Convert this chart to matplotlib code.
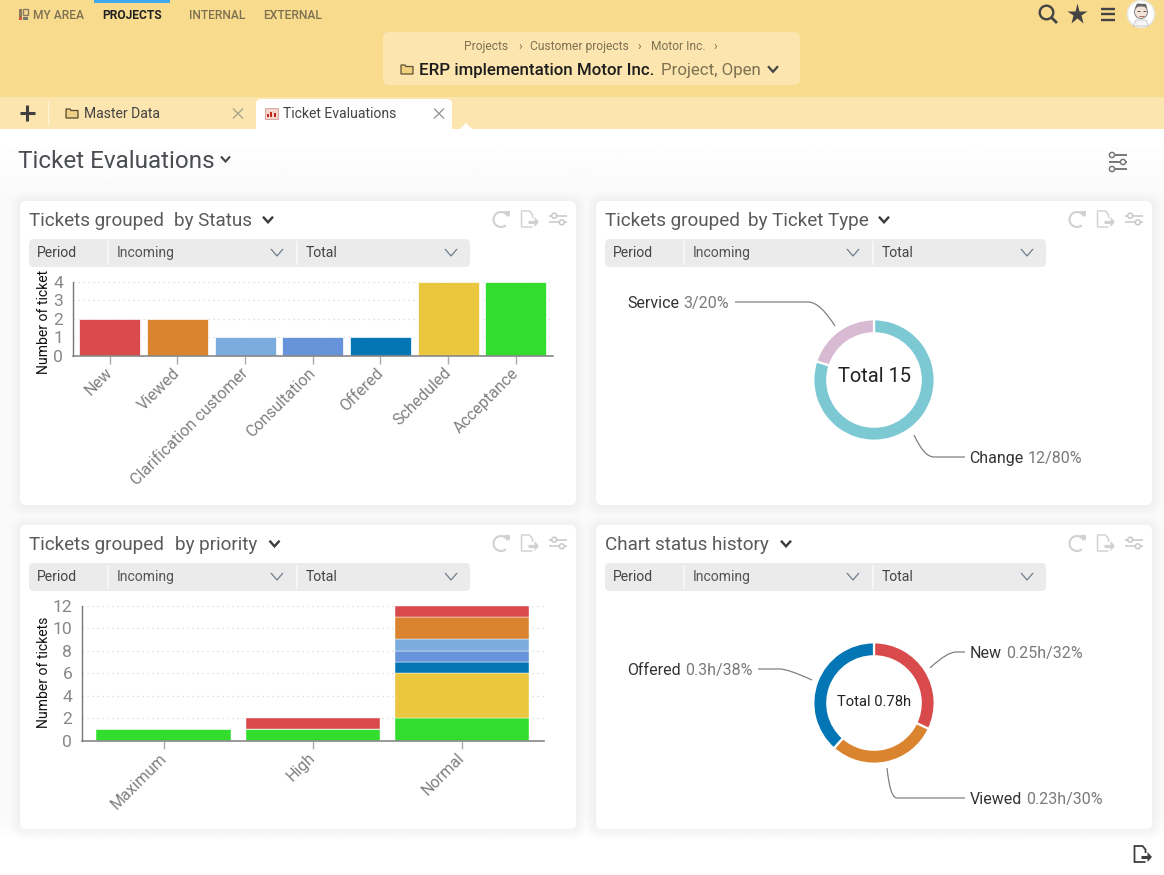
import numpy as np
import matplotlib
matplotlib.use("Agg")
import matplotlib.pyplot as plt
from matplotlib.patches import FancyBboxPatch, Rectangle, Circle, Arc, PathPatch, Polygon
from matplotlib.path import Path
from matplotlib.transforms import Bbox, ScaledTranslation

plt.rcParams['font.family'] = ['Roboto', 'DejaVu Sans']

# ---------- data ----------
status_labels = ["New", "Viewed", "Clarification customer", "Consultation", "Offered", "Scheduled", "Acceptance"]
status_counts = [2, 2, 1, 1, 1, 4, 4]
status_colors = ["#D94A4C", "#DB842F", "#7CACDE", "#6693D9", "#0476B5", "#EBC63F", "#33DD2E"]

priority_labels = ["Maximum", "High", "Normal"]
prio_acceptance = [1, 1, 2]
prio_scheduled = [0, 0, 4]
prio_offered = [0, 0, 1]
prio_consultation = [0, 0, 1]
prio_clarification = [0, 0, 1]
prio_viewed = [0, 0, 2]
prio_new = [0, 1, 1]

type_values = [12, 3]
type_colors = ["#7CC8D3", "#D9BAD3"]
history_values = [0.25, 0.23, 0.30]
history_colors = ["#D94A4C", "#DB842F", "#0476B5"]

W, H = 1164, 875
fig = plt.figure(figsize=(W / 100, H / 100), dpi=100, facecolor="white")


def px_axes(x0, y0, x1, y1, **kw):
    return fig.add_axes([x0 / W, 1 - y1 / H, (x1 - x0) / W, (y1 - y0) / H], **kw)


def pt(px):
    return px * 0.72


bg = px_axes(0, 0, W, H, zorder=0)
bg.set_xlim(0, W)
bg.set_ylim(H, 0)
bg.axis("off")
top = px_axes(0, 0, W, H, zorder=10)
top.set_xlim(0, W)
top.set_ylim(H, 0)
top.axis("off")
top.patch.set_alpha(0)


def T(x, y, s, px, color="#444444", ax=bg, ha="left", weight="normal", **kw):
    return ax.text(x, y, s, fontsize=pt(px), color=color, ha=ha, va="baseline", weight=weight, **kw)


def L(xs, ys, color="#444444", lw=1.0, ax=bg, **kw):
    ax.plot(xs, ys, color=color, lw=lw, solid_capstyle=kw.pop("cap", "butt"), solid_joinstyle="miter", **kw)


def rbox(x0, y0, x1, y1, r, fc, ec="none", lw=0, z=1, ax=bg, alpha=None):
    ax.add_patch(FancyBboxPatch((x0 + r, y0 + r), x1 - x0 - 2 * r, y1 - y0 - 2 * r,
                                boxstyle=f"round,pad={r},rounding_size={r}", fc=fc, ec=ec, lw=lw, zorder=z, alpha=alpha))


def chevron(x, y, w, h, color="#444444", lw=1.5):
    L([x - w, x, x + w], [y - h, y + h, y - h], color=color, lw=lw, zorder=6)


def sliders(x, y, color="#c8c8c8", s=1.0, lw=1.1):
    for dy, dx in ((-7 * s, -4 * s), (0, 4 * s)):
        L([x - 9 * s, x + 9 * s], [y + dy + 3.5 * s] * 2, color=color, lw=lw, zorder=6)
        bg.add_patch(Circle((x + dx, y + dy + 3.5 * s), 2.6 * s, fc="white", ec=color, lw=lw, zorder=7))


def sliders3(x, y, color="#777777"):
    for dy, dx in ((-7, -6), (0, 5), (7, -6)):
        L([x - 9, x + 9], [y + dy] * 2, color=color, lw=1.4, zorder=6)
        bg.add_patch(Circle((x + dx, y + dy), 2.6, fc="white", ec=color, lw=1.1, zorder=7))


def refresh(x, y, color="#d0d0d0"):
    bg.add_patch(Arc((x, y + 0.5), 15, 15, theta1=-310, theta2=-25, ec=color, lw=1.5, zorder=6))
    bg.add_patch(Polygon([[x + 2.5, y - 8.5], [x + 8.5, y - 8.5], [x + 8.5, y - 2.5]], fc=color, ec="none", zorder=6))


def export(x, y, color="#d0d0d0", lw=1.0):
    L([x + 3.5, x - 7.5, x - 7.5, x + 0.5, x + 3.5, x + 3.5],
      [y + 8, y + 8, y - 8, y - 8, y - 4.5, y - 1], color=color, lw=lw, zorder=6)
    L([x - 1, x + 6], [y + 3, y + 3], color=color, lw=2.2, zorder=6)
    bg.add_patch(Polygon([[x + 5.5, y - 2], [x + 10, y + 3], [x + 5.5, y + 8]], fc=color, ec="none", zorder=6))


def folder(x, y, fc="#EFC97A", ec="#6b5a35"):
    bg.add_patch(Polygon([[x, y - 4], [x + 4, y - 4], [x + 5, y - 2.5], [x + 12, y - 2.5], [x + 12, y + 5], [x, y + 5]],
                         fc=fc, ec=ec, lw=0.9, zorder=6))


# ---------- page chrome ----------
bg.add_patch(Rectangle((0, 0), W, 97, fc="#F9DB8E", ec="none", zorder=1))
bg.add_patch(Rectangle((0, 97), W, 32, fc="#FCE5AF", ec="none", zorder=1))
bg.add_patch(Rectangle((94, 0), 76, 3, fc="#42A9EE", ec="none", zorder=2))
grad = np.linspace(1.0, 0.98, 64).reshape(-1, 1)
bg.imshow(grad, extent=(0, W, 195, 135), cmap="gray", vmin=0, vmax=1, aspect="auto", zorder=0.5)
bg.add_patch(Rectangle((0, 194.5), W, 621, fc=(0.98, 0.98, 0.98), ec="none", zorder=0.5))
grad2 = np.linspace(0.98, 1.0, 64).reshape(-1, 1)
bg.imshow(grad2, extent=(0, W, 840, 815), cmap="gray", vmin=0, vmax=1, aspect="auto", zorder=0.5)
bg.set_xlim(0, W)
bg.set_ylim(H, 0)

# top navigation
bg.add_patch(Rectangle((18.5, 8.5), 3, 8, fc="#8a7a60", ec="none", zorder=5))
bg.add_patch(Rectangle((18.5, 17), 3, 3, fc="#D9583B", ec="none", zorder=5))
bg.add_patch(Rectangle((23, 8.5), 5, 6, fc="none", ec="#8a7a60", lw=1, zorder=5))
bg.add_patch(Rectangle((23, 16.5), 5, 3.5, fc="#777777", ec="none", zorder=5))
T(33, 19, "MY AREA", 12, "#7d7152", weight="medium", zorder=6)
T(102, 19, "PROJECTS", 12, "#222222", weight="bold", zorder=6)
T(189, 19, "INTERNAL", 12, "#7d7152", weight="medium", zorder=6)
T(263, 19, "EXTERNAL", 12, "#7d7152", weight="medium", zorder=6)

# right icons
bg.add_patch(Circle((1046.5, 12.5), 6.8, fc="none", ec="#444444", lw=1.7, zorder=6))
L([1051.5, 1057], [17.5, 23], color="#444444", lw=2.0, zorder=6)
bg.plot([1077], [13.5], marker="*", ms=15.5, mfc="#444444", mec="none", zorder=6)
for y in (8.5, 14, 19.5):
    L([1100.5, 1115], [y, y], color="#444444", lw=1.7, zorder=6)
bg.add_patch(Circle((1141, 14), 13.5, fc="white", ec="#e8e8e8", lw=1, zorder=6))
bg.add_patch(Circle((1141, 12), 6.5, fc="#F4E3D8", ec="#777777", lw=0.6, zorder=7))
bg.add_patch(Polygon([[1134.5, 9], [1137, 3.5], [1146, 4], [1147.5, 9], [1145, 6.5], [1138, 6.5]], fc="#666666", ec="none", zorder=8))
L([1136.5, 1139.5], [11, 11], color="#555555", lw=0.7, zorder=8)
L([1142.5, 1145.5], [11, 11], color="#555555", lw=0.7, zorder=8)
L([1138.5, 1143.5], [15.5, 15.5], color="#b06a60", lw=0.7, zorder=8)
bg.add_patch(Polygon([[1133, 26], [1136, 20], [1146, 20], [1149, 26]], fc="#F5F5F5", ec="#bbbbbb", lw=0.5, zorder=7))

# breadcrumb
rbox(383, 32, 800, 85, 6, "#FCE5AF", z=3)
T(464, 50, "Projects", 12, "#7d7152", zorder=6)
T(518, 50, "›", 12, "#7d7152", zorder=6)
T(530, 50, "Customer projects", 12, "#7d7152", zorder=6)
T(637, 50, "›", 12, "#7d7152", zorder=6)
T(651, 50, "Motor Inc.", 12, "#7d7152", zorder=6)
T(713, 50, "›", 12, "#7d7152", zorder=6)
folder(401, 69, fc="#F2D07E", ec="#5b5034")
T(419, 75, "ERP implementation Motor Inc.", 16.85, "#1d1d1d", weight="medium", zorder=6)
T(661, 75, "Project, Open", 16.85, "#7d7152", zorder=6)
chevron(773, 69, 5, 2.8, "#444444", 1.6)

# tabs
L([27, 27], [105, 121], color="#3f3f3f", lw=2.2, zorder=6)
L([20, 35], [113, 113], color="#3f3f3f", lw=2.2, zorder=6)
L([47.5, 47.5], [101, 125], color="#FFF3D6", lw=1, zorder=6)
folder(66, 113, fc="#F0CF86", ec="#55492c")
T(84, 118, "Master Data", 14, "#444444", zorder=6)
L([233, 243], [108.5, 118.5], color="#aaa58f", lw=1, zorder=6)
L([233, 243], [118.5, 108.5], color="#aaa58f", lw=1, zorder=6)
bg.add_patch(FancyBboxPatch((260, 103), 188, 30, boxstyle="round,pad=4,rounding_size=5", fc="white", ec="none", zorder=3))
bg.add_patch(Rectangle((264.5, 108), 13, 10.5, fc="#F5D5CC", ec="#d7a79e", lw=0.7, zorder=6))
for bx, bh in ((266.5, 3), (270, 5), (273.5, 4)):
    bg.add_patch(Rectangle((bx, 117 - bh), 2.4, bh, fc="#C02A1A", ec="none", zorder=7))
T(283, 118, "Ticket Evaluations", 14, "#444444", zorder=6)
L([434, 444], [108.5, 118.5], color="#999999", lw=1, zorder=6)
L([434, 444], [118.5, 108.5], color="#999999", lw=1, zorder=6)
bg.add_patch(Polygon([[460, 129], [466, 123], [472, 129]], fc="white", ec="none", zorder=4))

# page title
T(18, 168, "Ticket Evaluations", 24.2, "#4a4d52", zorder=6)
chevron(225.5, 159, 4.5, 2.5, "#444444", 1.5)
sliders3(1118, 162)


# ---------- cards ----------
def card(x0, y0, title_a, title_b, title_b_x, chev_x):
    x1, y1 = x0 + 556, y0 + 304
    for k in range(10, 0, -1):
        rbox(x0 - k, y0 - k + 1, x1 + k, y1 + k + 1, 6 + k, "black", z=1.5, alpha=0.0035)
    rbox(x0, y0, x1, y1, 6, "white", z=2)
    T(x0 + 9, y0 + 25, title_a, 18.9, "#5a5a5a", zorder=6)
    T(title_b_x, y0 + 25, title_b, 18.9, "#5a5a5a", zorder=6)
    chevron(chev_x, y0 + 18.5, 5, 2.8, "#3a3a3a", 1.7)
    refresh(x0 + 481, y0 + 18)
    export(x0 + 509, y0 + 18)
    sliders(x0 + 538, y0 + 18, s=0.95)
    rbox(x0 + 9, y0 + 38, x0 + 450, y0 + 66, 5, "#EBEBEB", z=3)
    L([x0 + 88] * 2, [y0 + 40, y0 + 64], color="#F8F8F8", lw=1.3, zorder=4)
    L([x0 + 277] * 2, [y0 + 40, y0 + 64], color="#F8F8F8", lw=1.3, zorder=4)
    T(x0 + 17, y0 + 56, "Period", 14, "#444444", zorder=6)
    T(x0 + 97, y0 + 56, "Incoming", 14, "#555555", zorder=6)
    T(x0 + 286, y0 + 56, "Total", 14, "#444444", zorder=6)
    chevron(x0 + 257, y0 + 51.5, 6, 3.5, "#6d7c8c", 0.9)
    chevron(x0 + 431, y0 + 51.5, 6, 3.5, "#6d7c8c", 0.9)


card(20, 201, "Tickets grouped", "by Status", 174, 268)
card(596, 201, "Tickets grouped", "by Ticket Type", 748, 884)
card(20, 525, "Tickets grouped", "by priority", 175, 274.5)
card(596, 525, "Chart status history", "", 790, 786)
export(1142, 854, color="#3f3f3f", lw=1.3)


# ---------- bar charts ----------
def style_bar(ax, yticks, labels):
    ax.patch.set_alpha(0)
    for s in ("top", "right"):
        ax.spines[s].set_visible(False)
    ax.spines["left"].set_color("#777777")
    ax.spines["left"].set_linewidth(1)
    ax.spines["bottom"].set_color("#888888")
    ax.spines["bottom"].set_linewidth(1.2)
    ax.set_yticks(yticks)
    ax.set_xticks(range(len(labels)))
    ax.set_xticklabels(labels, rotation=45, ha="right", va="top", rotation_mode="anchor",
                       fontsize=pt(16), color="#808080")
    ax.tick_params(axis="y", length=0, pad=7, labelsize=pt(17.5), labelcolor="#888888")
    ax.tick_params(axis="x", length=6, width=1, color="#aaaaaa", pad=3)
    ax.grid(axis="y", ls=(0, (1, 3)), color="#d8d8d8", lw=0.9)
    ax.set_axisbelow(True)
    shift = ScaledTranslation(-5 / 100, 3 / 100, fig.dpi_scale_trans)
    for lab in ax.get_xticklabels():
        lab.set_transform(lab.get_transform() + shift)


ax1 = px_axes(73, 281.5, 552.5, 355.7, zorder=5)
ax1.bar(range(len(status_counts)), status_counts, width=0.9, color=status_colors, edgecolor="white", linewidth=0.5)
ax1.set_xlim(-0.54, 6.54)
ax1.set_ylim(0, 4)
style_bar(ax1, [0, 1, 2, 3, 4], status_labels)

ax3 = px_axes(82, 605.5, 544, 740.7, zorder=5)
stack = [(prio_acceptance, 6), (prio_scheduled, 5), (prio_offered, 4), (prio_consultation, 3),
         (prio_clarification, 2), (prio_viewed, 1), (prio_new, 0)]
base = np.zeros(3)
for vals, ci in stack:
    ax3.bar(range(3), vals, bottom=base, width=0.9, color=status_colors[ci], edgecolor="white", linewidth=0.3)
    base += np.array(vals)
ax3.set_xlim(-0.547, 2.55)
ax3.set_ylim(0, 12)
style_bar(ax3, [0, 2, 4, 6, 8, 10, 12], priority_labels)

t = T(47.5, 318.5, "Number of tickets", 14, "#111111", ax=top, ha="center", rotation=90, rotation_mode="anchor", zorder=6)
t.set_clip_on(True)
t.set_clip_box(Bbox([[0, 1], [W, H - 271]]))
T(47.5, 672.5, "Number of tickets", 14, "#111111", ax=top, ha="center", rotation=90, rotation_mode="anchor", zorder=6)


# ---------- donuts ----------
def donut(cx, cy, values, colors):
    ax = px_axes(cx - 62, cy - 62, cx + 62, cy + 62, zorder=5)
    ax.pie(values, colors=colors, startangle=90, counterclock=False, radius=60.7,
           wedgeprops=dict(width=14, edgecolor="white", linewidth=1.6))
    ax.set_xlim(-62, 62)
    ax.set_ylim(-62, 62)
    ax.set_aspect("equal")
    ax.patch.set_alpha(0)
    return ax


donut(874, 380, type_values, type_colors)
donut(874, 703, history_values, history_colors)

T(874, 382, "Total 15", 20, "#222222", ax=top, ha="center", zorder=6)
T(874, 706, "Total 0.78h", 14.7, "#222222", ax=top, ha="center", zorder=6)


def leader(p0, c, p1, p2):
    path = Path([p0, c, p1, p2], [Path.MOVETO, Path.CURVE3, Path.CURVE3, Path.LINETO])
    top.add_patch(PathPatch(path, fc="none", ec="#808080", lw=0.9, zorder=6))


leader((835, 326), (820, 302), (808, 302), (735, 302))
leader((914, 435), (924, 457), (934, 457), (965, 457))
leader((930, 668), (947, 652), (956, 652), (965, 652))
leader((812, 680), (788, 669), (780, 669), (758, 669))
leader((887, 768), (890, 798), (897, 798), (965, 798))


def label(x, y, a, b):
    ta = T(x, y, a, 16, "#333333", ax=top, zorder=6)
    w = ta.get_window_extent(fig.canvas.get_renderer()).width
    T(x + w + 4, y, b, 16, "#7a7a7a", ax=top, zorder=6)


label(627.5, 308, "Service", "3/20%")
label(969.5, 463, "Change", "12/80%")
label(970, 658, "New", "0.25h/32%")
label(627.5, 675, "Offered", "0.3h/38%")
label(970, 804, "Viewed", "0.23h/30%")

fig.savefig("out.png", dpi=100)
